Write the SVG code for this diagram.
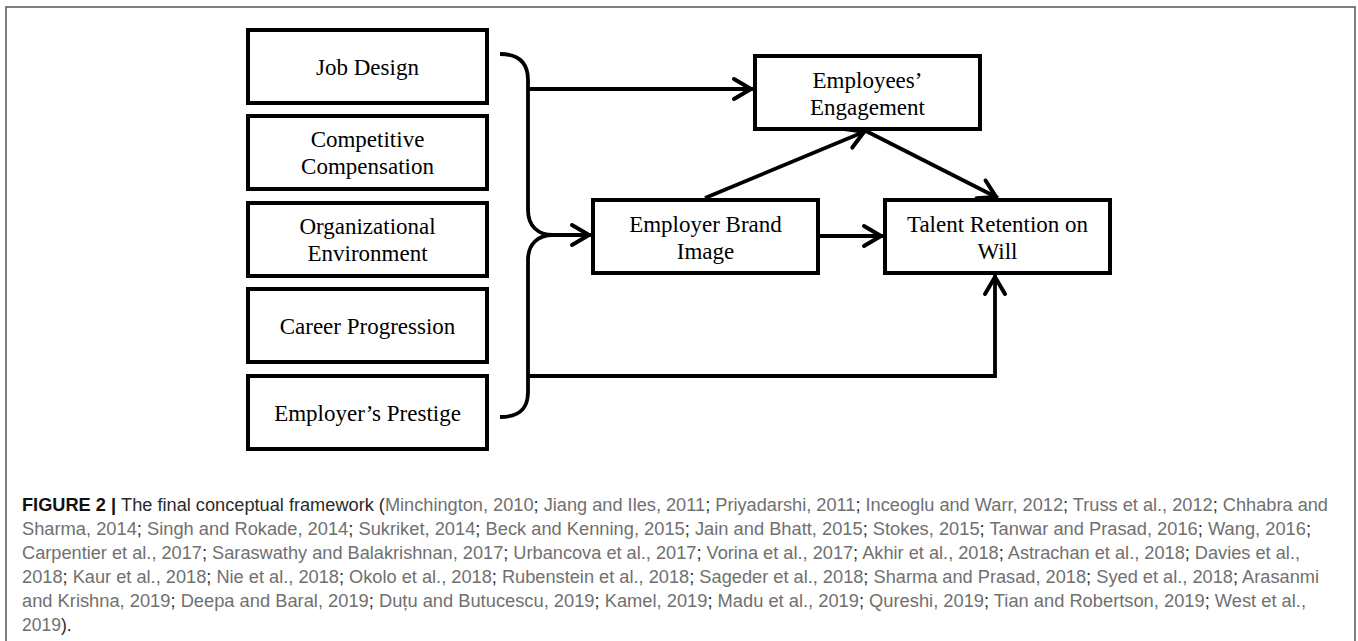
<svg xmlns="http://www.w3.org/2000/svg" width="1358" height="641" viewBox="0 0 1358 641">
  <style>
    .box { fill: #fff; stroke: #000; stroke-width: 4; }
    .lbl { font-family: "Liberation Serif", "Times New Roman", serif; font-size: 23px; fill: #000; text-anchor: middle; }
    .con { fill: none; stroke: #000; stroke-width: 3.8; }
    .cap { font-family: "Liberation Sans", Arial, sans-serif; font-size: 17.5px; fill: #2a2a2a; }
    .b { font-weight: bold; fill: #111; }
    .g { fill: #707070; }
  </style>
  <defs>
    <marker id="ah" markerUnits="userSpaceOnUse" markerWidth="26" markerHeight="28" viewBox="-4 -4 26 28" refX="19" refY="10" orient="auto" overflow="visible">
      <path d="M0,0 L17,10 L0,20" fill="none" stroke="#000" stroke-width="4" stroke-linejoin="round" stroke-linecap="round"/>
    </marker>
  </defs>
  <rect x="0" y="0" width="1358" height="641" fill="#fff"/>
  <rect x="6" y="7" width="1349" height="660" fill="none" stroke="#555" stroke-width="1.5"/>

  <g id="job-design">
    <rect class="box" x="248" y="30" width="239" height="73"/>
    <text class="lbl" x="367.5" y="75">Job Design</text>
  </g>
  <g id="competitive-compensation">
    <rect class="box" x="248" y="116" width="239" height="73"/>
    <text class="lbl" x="367.5" y="147">Competitive</text>
    <text class="lbl" x="367.5" y="174">Compensation</text>
  </g>
  <g id="organizational-environment">
    <rect class="box" x="248" y="203" width="239" height="73"/>
    <text class="lbl" x="367.5" y="233.5">Organizational</text>
    <text class="lbl" x="367.5" y="260.5">Environment</text>
  </g>
  <g id="career-progression">
    <rect class="box" x="248" y="289" width="239" height="73"/>
    <text class="lbl" x="367.5" y="334">Career Progression</text>
  </g>
  <g id="employers-prestige">
    <rect class="box" x="248" y="376" width="239" height="73"/>
    <text class="lbl" x="367.5" y="421">Employer’s Prestige</text>
  </g>
  <g id="employees-engagement">
    <rect class="box" x="755" y="56" width="225" height="73"/>
    <text class="lbl" x="867.5" y="88">Employees’</text>
    <text class="lbl" x="867.5" y="115">Engagement</text>
  </g>
  <g id="employer-brand-image">
    <rect class="box" x="593" y="200" width="225" height="73"/>
    <text class="lbl" x="705.5" y="232">Employer Brand</text>
    <text class="lbl" x="705.5" y="259">Image</text>
  </g>
  <g id="talent-retention">
    <rect class="box" x="885" y="200" width="225" height="73"/>
    <text class="lbl" x="997.5" y="232">Talent Retention on</text>
    <text class="lbl" x="997.5" y="259">Will</text>
  </g>

  <g id="connectors">
    <path class="con" d="M500,54 C518,54 528,62 528,80 L528,210 C528,226 538,235 553,235 C538,235 528,244 528,260 L528,392 C528,410 518,417 500,417"/>
    <path class="con" d="M553,235 H591" marker-end="url(#ah)"/>
    <path class="con" d="M528,89 H753" marker-end="url(#ah)"/>
    <path class="con" d="M820,236 H883" marker-end="url(#ah)"/>
    <path class="con" d="M705,198 L866,131" marker-end="url(#ah)"/>
    <path class="con" d="M866,131 L998,198" marker-end="url(#ah)"/>
    <path class="con" d="M528,376 H995 V275" marker-end="url(#ah)"/>
  </g>

  <g id="caption" class="cap">
    <text x="22" y="511" textLength="1306" lengthAdjust="spacingAndGlyphs"><tspan class="b">FIGURE 2 | </tspan>The final conceptual framework (<tspan class="g">Minchington, 2010</tspan>; <tspan class="g">Jiang and Iles, 2011</tspan>; <tspan class="g">Priyadarshi, 2011</tspan>; <tspan class="g">Inceoglu and Warr, 2012</tspan>; <tspan class="g">Truss et al., 2012</tspan>; <tspan class="g">Chhabra and</tspan></text>
    <text x="22" y="535" textLength="1289" lengthAdjust="spacingAndGlyphs"><tspan class="g">Sharma, 2014</tspan>; <tspan class="g">Singh and Rokade, 2014</tspan>; <tspan class="g">Sukriket, 2014</tspan>; <tspan class="g">Beck and Kenning, 2015</tspan>; <tspan class="g">Jain and Bhatt, 2015</tspan>; <tspan class="g">Stokes, 2015</tspan>; <tspan class="g">Tanwar and Prasad, 2016</tspan>; <tspan class="g">Wang, 2016</tspan>;</text>
    <text x="22" y="559" textLength="1278" lengthAdjust="spacingAndGlyphs"><tspan class="g">Carpentier et al., 2017</tspan>; <tspan class="g">Saraswathy and Balakrishnan, 2017</tspan>; <tspan class="g">Urbancova et al., 2017</tspan>; <tspan class="g">Vorina et al., 2017</tspan>; <tspan class="g">Akhir et al., 2018</tspan>; <tspan class="g">Astrachan et al., 2018</tspan>; <tspan class="g">Davies et al.,</tspan></text>
    <text x="22" y="583" textLength="1297" lengthAdjust="spacingAndGlyphs"><tspan class="g">2018</tspan>; <tspan class="g">Kaur et al., 2018</tspan>; <tspan class="g">Nie et al., 2018</tspan>; <tspan class="g">Okolo et al., 2018</tspan>; <tspan class="g">Rubenstein et al., 2018</tspan>; <tspan class="g">Sageder et al., 2018</tspan>; <tspan class="g">Sharma and Prasad, 2018</tspan>; <tspan class="g">Syed et al., 2018</tspan>; <tspan class="g">Arasanmi</tspan></text>
    <text x="22" y="607" textLength="1284" lengthAdjust="spacingAndGlyphs"><tspan class="g">and Krishna, 2019</tspan>; <tspan class="g">Deepa and Baral, 2019</tspan>; <tspan class="g">Duțu and Butucescu, 2019</tspan>; <tspan class="g">Kamel, 2019</tspan>; <tspan class="g">Madu et al., 2019</tspan>; <tspan class="g">Qureshi, 2019</tspan>; <tspan class="g">Tian and Robertson, 2019</tspan>; <tspan class="g">West et al.,</tspan></text>
    <text x="22" y="631"><tspan class="g">2019</tspan>).</text>
  </g>
</svg>
